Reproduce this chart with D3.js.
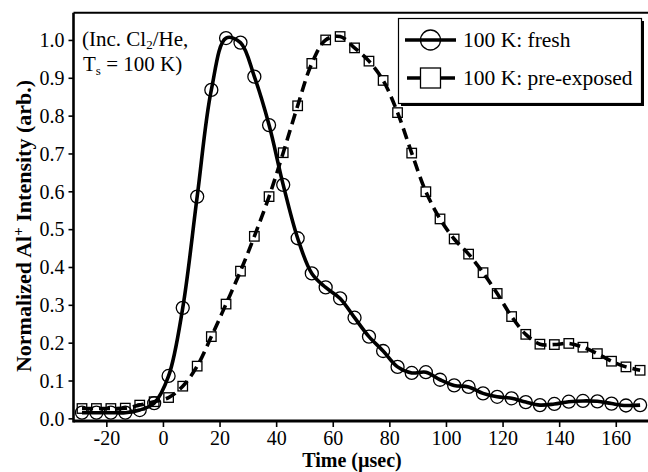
<!DOCTYPE html>
<html>
<head>
<meta charset="utf-8">
<script src="https://cdn.jsdelivr.net/npm/d3@7"></script>
<style>
  html, body { margin: 0; padding: 0; background: #fff; }
  svg { display: block; font-family: "Liberation Serif", "Times New Roman", serif; }
</style>
</head>
<body>
<div id="chart"></div>
<script>
// time axis (usec), same sampling for both curves
const timeUs = [-28.6, -23.5, -18.4, -13.3, -8.2, -3.1, 2.0, 7.0, 12.1, 17.1,
  22.3, 27.4, 32.3, 37.5, 42.5, 47.6, 52.6, 57.5, 62.6, 67.7,
  72.8, 77.8, 82.9, 87.9, 92.9, 97.9, 102.9, 108.0, 113.1, 118.1,
  123.2, 128.2, 133.2, 138.3, 143.4, 148.4, 153.5, 158.5, 163.6, 168.6];

// 100 K: fresh
const fresh = [0.015, 0.015, 0.015, 0.015, 0.022, 0.040, 0.112, 0.292, 0.586, 0.868,
  1.005, 0.993, 0.903, 0.775, 0.617, 0.476, 0.383, 0.346, 0.317, 0.266,
  0.216, 0.178, 0.136, 0.120, 0.122, 0.102, 0.087, 0.083, 0.066, 0.057,
  0.053, 0.043, 0.035, 0.038, 0.044, 0.046, 0.045, 0.039, 0.034, 0.035];

// 100 K: pre-exposed
const preExposed = [0.026, 0.026, 0.026, 0.027, 0.035, 0.044, 0.055, 0.085, 0.138, 0.216,
  0.302, 0.389, 0.481, 0.586, 0.702, 0.826, 0.938, 1.000, 1.009, 0.979,
  0.944, 0.893, 0.808, 0.701, 0.599, 0.527, 0.474, 0.434, 0.385, 0.330,
  0.269, 0.222, 0.196, 0.195, 0.198, 0.188, 0.171, 0.151, 0.136, 0.127];

const xTicks = [-20, 0, 20, 40, 60, 80, 100, 120, 140, 160];
const yTicks = [0.0, 0.1, 0.2, 0.3, 0.4, 0.5, 0.6, 0.7, 0.8, 0.9, 1.0];

const seriesNames = ["100 K: fresh", "100 K: pre-exposed"];

const width = 648, height = 472;
const plotL = 73.5, plotR = 652, plotT = 12.7, plotB = 421;

const svg = d3.select("#chart").append("svg")
  .attr("width", width)
  .attr("height", height);

const x = d3.scaleLinear().domain([-31.6, 172.8]).range([plotL, plotR]);
const y = d3.scaleLinear().domain([-0.007, 1.072]).range([plotB, plotT]);

// clip for the data
svg.append("clipPath").attr("id", "plotclip")
  .append("rect").attr("x", plotL).attr("y", plotT)
  .attr("width", width - plotL).attr("height", plotB - plotT);

const plot = svg.append("g").attr("clip-path", "url(#plotclip)");

const freshPts = timeUs.map((t, i) => [t, fresh[i]]);
const prePts = timeUs.map((t, i) => [t, preExposed[i]]);

const line = d3.line()
  .x(d => x(d[0])).y(d => y(d[1]))
  .curve(d3.curveCatmullRom.alpha(0.5));

plot.append("path").datum(prePts)
  .attr("d", line)
  .attr("fill", "none").attr("stroke", "#000")
  .attr("stroke-width", 3.6)
  .attr("stroke-dasharray", "11,6");

plot.append("path").datum(freshPts)
  .attr("d", line)
  .attr("fill", "none").attr("stroke", "#000")
  .attr("stroke-width", 3.6);

plot.append("g").selectAll("circle").data(freshPts).join("circle")
  .attr("cx", d => x(d[0])).attr("cy", d => y(d[1]))
  .attr("r", 6.5)
  .attr("fill", "none").attr("stroke", "#000").attr("stroke-width", 1.3);

const sq = 9.5;
plot.append("g").selectAll("rect").data(prePts).join("rect")
  .attr("x", d => x(d[0]) - sq / 2).attr("y", d => y(d[1]) - sq / 2)
  .attr("width", sq).attr("height", sq)
  .attr("fill", "none").attr("stroke", "#000").attr("stroke-width", 1.3);

// axes
const xAxis = svg.append("g")
  .attr("transform", `translate(0,${plotB})`)
  .call(d3.axisBottom(x).tickValues(xTicks).tickSize(6).tickPadding(6).tickFormat(d => String(d)));
const yAxis = svg.append("g")
  .attr("transform", `translate(${plotL},0)`)
  .call(d3.axisLeft(y).tickValues(yTicks).tickSize(5).tickPadding(4).tickFormat(d3.format(".1f")));

[xAxis, yAxis].forEach(a => {
  a.select(".domain").remove();
  a.selectAll(".tick line").attr("stroke", "#000").attr("stroke-width", 1.6);
  a.selectAll(".tick text").attr("fill", "#000")
    .style("font-family", "Liberation Serif, serif").style("font-size", "20px");
});
xAxis.selectAll(".tick text").attr("dy", "0.6em");
yAxis.selectAll(".tick text").attr("dy", "0.34em");

// frame lines: left, bottom, top
svg.append("line").attr("x1", plotL).attr("x2", plotL).attr("y1", plotT).attr("y2", plotB + 1.5)
  .attr("stroke", "#000").attr("stroke-width", 2.6);
svg.append("line").attr("x1", plotL).attr("x2", width).attr("y1", plotB).attr("y2", plotB)
  .attr("stroke", "#000").attr("stroke-width", 3);
svg.append("line").attr("x1", plotL).attr("x2", width).attr("y1", plotT).attr("y2", plotT)
  .attr("stroke", "#000").attr("stroke-width", 2);

// axis titles
svg.append("text")
  .attr("x", 352).attr("y", 467)
  .attr("text-anchor", "middle")
  .style("font-size", "20px").style("font-weight", "bold")
  .text("Time (\u00b5sec)");

const yt = svg.append("text")
  .attr("transform", "translate(31,226) rotate(-90)")
  .attr("text-anchor", "middle")
  .style("font-size", "22px").style("font-weight", "bold");
yt.append("tspan").text("Normalized Al");
yt.append("tspan").attr("dy", -8).style("font-size", "15px").text("+");
yt.append("tspan").attr("dy", 8).text(" Intensity (arb.)");

// annotation (two lines in one text element)
const ann = svg.append("text").attr("x", 82).attr("y", 46).style("font-size", "21px");
ann.append("tspan").text("(Inc. Cl");
ann.append("tspan").attr("dy", 3).style("font-size", "13px").text("2");
ann.append("tspan").attr("dy", -3).text("/He,");
ann.append("tspan").attr("x", 83).attr("dy", 25).text("T");
ann.append("tspan").attr("dy", 4).style("font-size", "13px").text("s");
ann.append("tspan").attr("dy", -4).text(" = 100 K)");

// legend
const lg = svg.append("g");
lg.append("rect").attr("x", 401).attr("y", 21).attr("width", 243).attr("height", 85).attr("fill", "#000");
lg.append("rect").attr("x", 398.5).attr("y", 18.5).attr("width", 243).attr("height", 85)
  .attr("fill", "#fff").attr("stroke", "#000").attr("stroke-width", 1.2);

lg.append("line").attr("x1", 405).attr("x2", 456).attr("y1", 40).attr("y2", 40)
  .attr("stroke", "#000").attr("stroke-width", 3.6);
lg.append("circle").attr("cx", 430.5).attr("cy", 40).attr("r", 10)
  .attr("fill", "none").attr("stroke", "#000").attr("stroke-width", 1.3);

lg.append("line").attr("x1", 407).attr("x2", 455).attr("y1", 78).attr("y2", 78)
  .attr("stroke", "#000").attr("stroke-width", 3.6).attr("stroke-dasharray", "14,20,14");
lg.append("rect").attr("x", 420.5).attr("y", 68).attr("width", 20).attr("height", 20)
  .attr("fill", "none").attr("stroke", "#000").attr("stroke-width", 1.3);

lg.selectAll("text.lab").data(seriesNames).join("text")
  .attr("class", "lab")
  .attr("x", 463).attr("y", (d, i) => 47 + i * 38)
  .style("font-size", "21.5px")
  .text(d => d);
</script>
</body>
</html>
